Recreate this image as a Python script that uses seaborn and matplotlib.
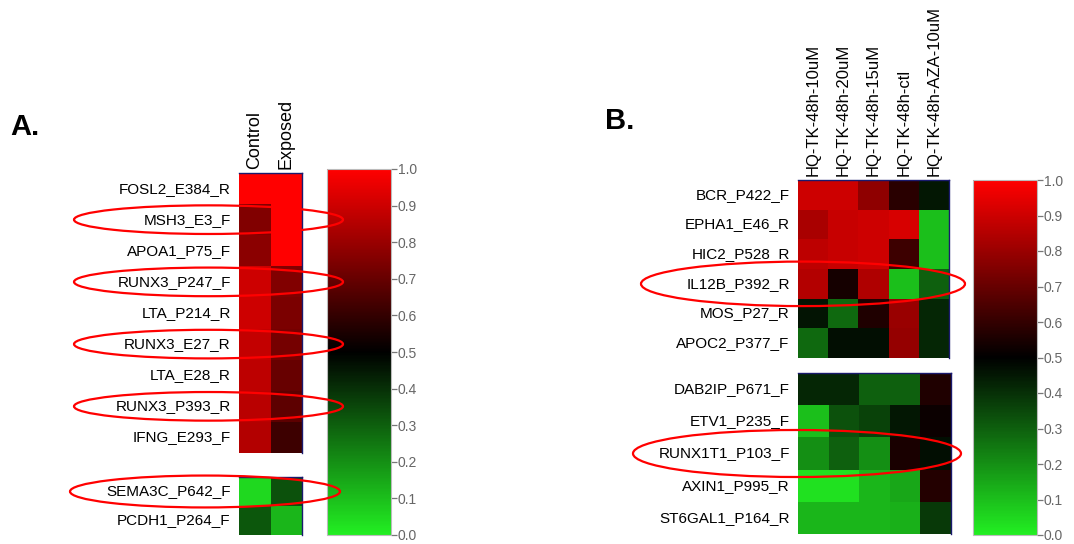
import numpy as np
import pandas as pd
import seaborn as sns
import matplotlib.pyplot as plt
from matplotlib.colors import LinearSegmentedColormap
from matplotlib.patches import Ellipse
from matplotlib import transforms

sns.set_theme(style="white")
plt.rcParams["font.family"] = ["Liberation Sans", "DejaVu Sans"]
plt.rcParams["text.color"] = "black"
plt.rcParams["xtick.color"] = "black"
plt.rcParams["ytick.color"] = "black"

# datos panel A
cols_a = ["Control", "Exposed"]
genes_a1 = ["FOSL2_E384_R", "MSH3_E3_F", "APOA1_P75_F", "RUNX3_P247_F",
            "LTA_P214_R", "RUNX3_E27_R", "LTA_E28_R", "RUNX3_P393_R",
            "IFNG_E293_F"]
control_a1 = [1.0, 0.75, 0.77, 0.90, 0.90, 0.88, 0.87, 0.86, 0.85]
exposed_a1 = [1.0, 1.0, 1.0, 0.75, 0.74, 0.73, 0.70, 0.68, 0.62]
genes_a2 = ["SEMA3C_P642_F", "PCDH1_P264_F"]
control_a2 = [0.05, 0.32]
exposed_a2 = [0.33, 0.12]
marcados_a1 = ["MSH3_E3_F", "RUNX3_P247_F", "RUNX3_E27_R", "RUNX3_P393_R"]
marcados_a2 = ["SEMA3C_P642_F"]

# datos panel B
cols_b = ["HQ-TK-48h-10uM", "HQ-TK-48h-20uM", "HQ-TK-48h-15uM",
          "HQ-TK-48h-ctl", "HQ-TK-48h-AZA-10uM"]
genes_b1 = ["BCR_P422_F", "EPHA1_E46_R", "HIC2_P528_R", "IL12B_P392_R",
            "MOS_P27_R", "APOC2_P377_F"]
valores_b1 = [[0.90, 0.90, 0.78, 0.58, 0.45],
              [0.83, 0.89, 0.90, 0.92, 0.10],
              [0.87, 0.89, 0.90, 0.62, 0.10],
              [0.85, 0.54, 0.84, 0.10, 0.30],
              [0.46, 0.28, 0.56, 0.80, 0.42],
              [0.28, 0.47, 0.47, 0.79, 0.42]]
genes_b2 = ["DAB2IP_P671_F", "ETV1_P235_F", "RUNX1T1_P103_F", "AXIN1_P995_R",
            "ST6GAL1_P164_R"]
valores_b2 = [[0.42, 0.42, 0.30, 0.30, 0.56],
              [0.10, 0.33, 0.36, 0.45, 0.52],
              [0.20, 0.30, 0.20, 0.55, 0.47],
              [0.03, 0.03, 0.12, 0.15, 0.57],
              [0.12, 0.12, 0.12, 0.13, 0.38]]
marcados_b1 = ["IL12B_P392_R"]
marcados_b2 = ["RUNX1T1_P103_F"]

cbar_ticks = [0.0, 0.1, 0.2, 0.3, 0.4, 0.5, 0.6, 0.7, 0.8, 0.9, 1.0]

df_a1 = pd.DataFrame({"Control": control_a1, "Exposed": exposed_a1}, index=genes_a1)
df_a2 = pd.DataFrame({"Control": control_a2, "Exposed": exposed_a2}, index=genes_a2)
df_b1 = pd.DataFrame(valores_b1, index=genes_b1, columns=cols_b)
df_b2 = pd.DataFrame(valores_b2, index=genes_b2, columns=cols_b)

cmap = LinearSegmentedColormap.from_list("gkr", ["#22ee22", "#000000", "#ff0000"])

W, H = 1074, 544
fig = plt.figure(figsize=(W / 100, H / 100), dpi=100)


def caja(x0, y0, x1, y1):
    return [x0 / W, 1 - y1 / H, (x1 - x0) / W, (y1 - y0) / H]


def dibujar(ax, df, cax=None, etiquetas_col=True):
    sns.heatmap(df, ax=ax, cmap=cmap, vmin=0, vmax=1, cbar=cax is not None,
                cbar_ax=cax, xticklabels=etiquetas_col, yticklabels=True)
    ax.tick_params(axis="y", length=0, pad=6, labelsize=11, labelrotation=0,
                   labelcolor="black")
    if etiquetas_col:
        ax.xaxis.tick_top()
        ax.tick_params(axis="x", length=0, pad=3, labelsize=12, labelrotation=90,
                       labelcolor="black")
    else:
        ax.set_xticks([])
    ax.set_xlabel("")
    ax.set_ylabel("")
    for s in ["top", "right"]:
        ax.spines[s].set_visible(True)
        ax.spines[s].set_color("#1a1a6e")
        ax.spines[s].set_linewidth(1)
    if cax is not None:
        cb = ax.collections[0].colorbar
        cb.set_ticks(cbar_ticks)
        cb.set_ticklabels([f"{t:.1f}" for t in cbar_ticks])
        cb.ax.tick_params(length=4, width=0.9, color="#777777", labelsize=10,
                          labelcolor="#666666", pad=1)
        cb.outline.set_edgecolor("#bbbbbb")
        cb.outline.set_linewidth(0.8)


def marcar(ax, df, genes, x0, x1, alto):
    tr = transforms.blended_transform_factory(fig.transFigure, ax.transData)
    for g in genes:
        fila = list(df.index).index(g)
        e = Ellipse(((x0 + x1) / 2 / W, fila + 0.5), (x1 - x0) / W, alto,
                    transform=tr, fill=False, edgecolor="red", lw=1.6,
                    clip_on=False, zorder=10)
        fig.add_artist(e)


# panel A
ax_a1 = fig.add_axes(caja(239, 173, 302, 453))
ax_a2 = fig.add_axes(caja(239, 477, 302, 535))
cax_a = fig.add_axes(caja(327, 169, 391, 535))
dibujar(ax_a1, df_a1, cax=cax_a)
for lab in ax_a1.get_xticklabels():
    lab.set_fontsize(13)
dibujar(ax_a2, df_a2, etiquetas_col=False)
marcar(ax_a1, df_a1, marcados_a1, 74, 343, 0.92)
marcar(ax_a2, df_a2, marcados_a2, 70, 340, 1.1)

# panel B
ax_b1 = fig.add_axes(caja(798, 180, 949, 358))
ax_b2 = fig.add_axes(caja(798, 373, 951, 534))
cax_b = fig.add_axes(caja(973, 180, 1037, 535))
dibujar(ax_b1, df_b1, cax=cax_b)
dibujar(ax_b2, df_b2, etiquetas_col=False)
marcar(ax_b1, df_b1, marcados_b1, 641, 965, 1.5)
marcar(ax_b2, df_b2, marcados_b2, 633, 961, 1.46)

fig.text(10 / W, 1 - 135 / H, "A.", fontsize=21, fontweight="bold")
fig.text(605 / W, 1 - 129 / H, "B.", fontsize=21, fontweight="bold")

fig.savefig("out.png", dpi=100)
